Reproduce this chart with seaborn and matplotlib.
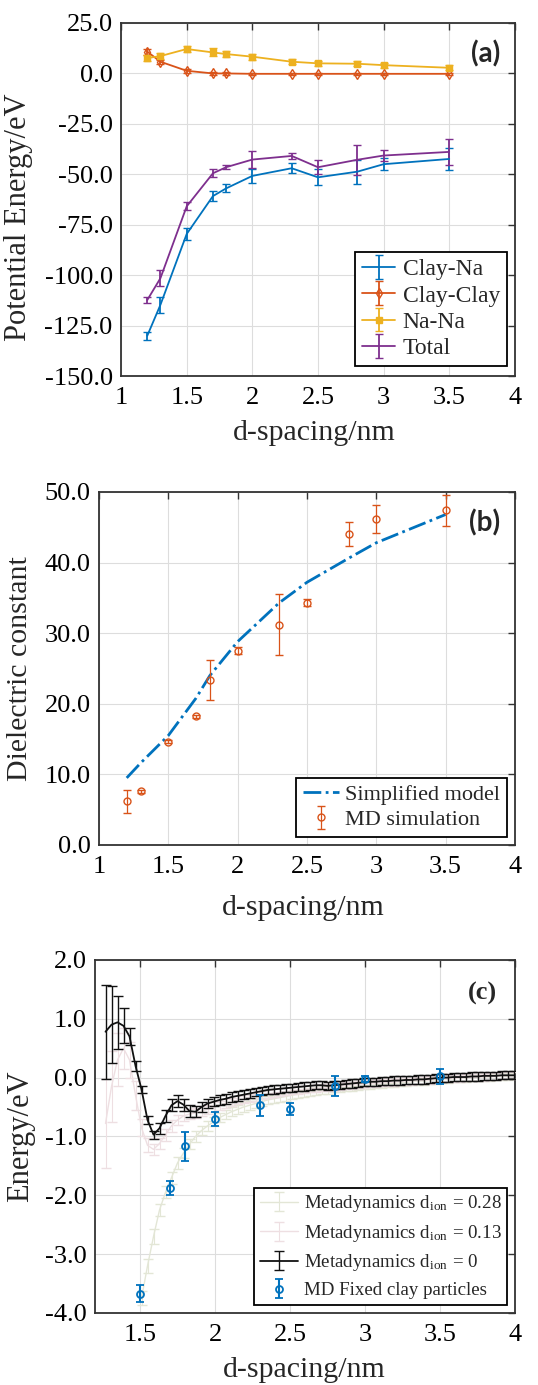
import matplotlib
matplotlib.use('Agg')
import matplotlib.pyplot as plt
import seaborn as sns
from matplotlib.ticker import FormatStrFormatter, MultipleLocator

# ---------------- panel (a): potential energy ----------------
x_a = [1.2, 1.3, 1.5, 1.7, 1.8, 2.0, 2.3, 2.5, 2.8, 3.0, 3.5]
clay_na = [-130.0, -114.7, -79.6, -60.8, -57.0, -50.8, -47.0, -51.5, -48.7, -45.0, -42.4]
clay_na_err = [2.0, 4.0, 3.0, 2.5, 2.0, 3.5, 2.5, 4.0, 6.0, 3.0, 5.5]
clay_clay = [10.8, 5.8, 1.3, 0.0, 0.0, -0.2, -0.2, -0.2, -0.2, -0.2, -0.2]
clay_clay_err = [1.5, 1.0, 1.0, 0.8, 0.8, 0.6, 0.6, 0.6, 0.6, 0.6, 0.6]
na_na = [7.6, 8.6, 12.1, 10.4, 9.6, 8.3, 5.8, 5.0, 4.8, 4.1, 2.8]
na_na_err = [1.5, 1.5, 1.5, 2.0, 1.5, 1.5, 1.2, 1.2, 1.2, 1.2, 1.2]
total = [-112.3, -101.5, -65.9, -49.5, -46.5, -42.7, -40.9, -46.5, -42.8, -40.7, -38.9]
total_err = [1.5, 4.0, 2.0, 2.0, 1.0, 4.0, 1.5, 3.5, 7.5, 2.5, 6.5]

# ---------------- panel (b): dielectric constant ----------------
x_b = [1.2, 1.3, 1.5, 1.7, 1.8, 2.0, 2.3, 2.5, 2.8, 3.0, 3.5]
md_eps = [6.2, 7.6, 14.6, 18.2, 23.4, 27.5, 31.2, 34.3, 44.0, 46.2, 47.4]
md_eps_err = [1.6, 0.2, 0.2, 0.2, 2.8, 0.5, 4.3, 0.5, 1.7, 2.0, 2.2]
model_eps = [9.5, 11.6, 15.5, 20.8, 24.0, 28.8, 34.3, 37.2, 40.6, 42.8, 46.8]

# ---------------- panel (c): free energy ----------------
x_md = [1.5, 1.7, 1.8, 2.0, 2.3, 2.5, 2.8, 3.0, 3.5]
md_e = [-3.67, -1.87, -1.17, -0.71, -0.47, -0.53, -0.14, -0.03, 0.02]
md_e_err = [0.15, 0.12, 0.25, 0.12, 0.18, 0.10, 0.17, 0.05, 0.13]

x_meta = [1.27, 1.31, 1.35, 1.39, 1.43, 1.47, 1.51, 1.55, 1.59, 1.63,
          1.67, 1.71, 1.75, 1.79, 1.83, 1.87, 1.91, 1.95, 1.99, 2.03,
          2.07, 2.11, 2.15, 2.19, 2.23, 2.27, 2.31, 2.35, 2.39, 2.43,
          2.47, 2.51, 2.55, 2.59, 2.63, 2.67, 2.71, 2.75, 2.79, 2.83,
          2.87, 2.91, 2.95, 2.99, 3.03, 3.07, 3.11, 3.15, 3.19, 3.23,
          3.27, 3.31, 3.35, 3.39, 3.43, 3.47, 3.51, 3.55, 3.59, 3.63,
          3.67, 3.71, 3.75, 3.79, 3.83, 3.87, 3.91, 3.95, 3.99]

meta_0 = [0.78, 0.90, 0.94, 0.88, 0.70, 0.20, -0.20, -0.72, -0.97, -0.86,
          -0.65, -0.47, -0.40, -0.46, -0.57, -0.58, -0.50, -0.44, -0.41, -0.38,
          -0.36, -0.33, -0.31, -0.29, -0.27, -0.25, -0.23, -0.21, -0.20, -0.19,
          -0.18, -0.17, -0.16, -0.15, -0.14, -0.13, -0.13, -0.14, -0.13, -0.12,
          -0.11, -0.10, -0.09, -0.08, -0.07, -0.07, -0.06, -0.06, -0.05, -0.05,
          -0.04, -0.04, -0.03, -0.03, -0.02, -0.01, 0.00, 0.00, 0.01, 0.01,
          0.01, 0.02, 0.02, 0.03, 0.03, 0.03, 0.04, 0.04, 0.04]
meta_0_err = [0.80, 0.65, 0.45, 0.30, 0.15, 0.08, 0.06, 0.06, 0.07, 0.09,
              0.10, 0.10, 0.10, 0.10, 0.10, 0.09, 0.09, 0.08, 0.08, 0.08,
              0.08, 0.08, 0.08, 0.08, 0.07, 0.07, 0.07, 0.07, 0.07, 0.07,
              0.07, 0.07, 0.07, 0.07, 0.07, 0.07, 0.07, 0.07, 0.07, 0.07,
              0.07, 0.07, 0.07, 0.07, 0.07, 0.07, 0.07, 0.07, 0.07, 0.07,
              0.07, 0.07, 0.07, 0.07, 0.07, 0.07, 0.07, 0.07, 0.07, 0.07,
              0.07, 0.07, 0.07, 0.07, 0.07, 0.07, 0.07, 0.07, 0.07]

meta_13 = [-0.78, -0.15, 0.30, 0.50, 0.30, -0.30, -0.85, -1.15, -1.22, -1.12,
           -0.97, -0.82, -0.72, -0.65, -0.62, -0.60, -0.57, -0.54, -0.50, -0.47,
           -0.44, -0.41, -0.38, -0.36, -0.34, -0.32, -0.30, -0.28, -0.26, -0.25,
           -0.24, -0.22, -0.21, -0.20, -0.19, -0.18, -0.17, -0.17, -0.16, -0.15,
           -0.14, -0.13, -0.12, -0.11, -0.10, -0.10, -0.09, -0.08, -0.08, -0.07,
           -0.06, -0.06, -0.05, -0.05, -0.04, -0.03, -0.02, -0.02, -0.01, -0.01,
           0.00, 0.00, 0.01, 0.01, 0.02, 0.02, 0.03, 0.03, 0.03]
meta_13_err = [0.75, 0.60, 0.45, 0.35, 0.30, 0.25, 0.15, 0.12, 0.10, 0.10,
               0.10, 0.10, 0.09, 0.09, 0.09, 0.08, 0.08, 0.08, 0.08, 0.08,
               0.07, 0.07, 0.07, 0.07, 0.07, 0.07, 0.07, 0.07, 0.07, 0.07,
               0.06, 0.06, 0.06, 0.06, 0.06, 0.06, 0.06, 0.06, 0.06, 0.06,
               0.06, 0.06, 0.06, 0.06, 0.06, 0.06, 0.06, 0.06, 0.06, 0.06,
               0.06, 0.06, 0.06, 0.06, 0.06, 0.06, 0.06, 0.06, 0.06, 0.06,
               0.06, 0.06, 0.06, 0.06, 0.06, 0.06, 0.06, 0.06, 0.06]

x_meta_28 = x_meta[6:]
meta_28 = [-3.75, -3.20, -2.70, -2.25, -1.95, -1.70, -1.45, -1.28, -1.13, -1.00,
           -0.90, -0.82, -0.75, -0.68, -0.63, -0.58, -0.54, -0.50, -0.47, -0.44,
           -0.41, -0.38, -0.36, -0.34, -0.32, -0.30, -0.28, -0.26, -0.25, -0.23,
           -0.22, -0.21, -0.19, -0.18, -0.17, -0.16, -0.15, -0.14, -0.13, -0.12,
           -0.11, -0.10, -0.10, -0.09, -0.08, -0.07, -0.06, -0.06, -0.05, -0.04,
           -0.03, -0.03, -0.02, -0.01, -0.01, 0.00, 0.00, 0.01, 0.01, 0.02,
           0.02, 0.02, 0.03]
meta_28_err = [0.12, 0.12, 0.12, 0.10, 0.10, 0.10, 0.10, 0.09, 0.09, 0.09,
               0.08, 0.08, 0.08, 0.08, 0.08, 0.08, 0.08, 0.08, 0.08, 0.08,
               0.07, 0.07, 0.07, 0.07, 0.07, 0.07, 0.07, 0.07, 0.07, 0.07,
               0.06, 0.06, 0.06, 0.06, 0.06, 0.06, 0.06, 0.06, 0.06, 0.06,
               0.06, 0.06, 0.06, 0.06, 0.06, 0.06, 0.06, 0.06, 0.06, 0.06,
               0.06, 0.06, 0.06, 0.06, 0.06, 0.06, 0.06, 0.06, 0.06, 0.06,
               0.06, 0.06, 0.06]

BLUE, ORANGE, YELLOW, PURPLE = '#0072BD', '#D95319', '#EDB120', '#7E2F8E'

sns.set_style('whitegrid')
plt.rcParams['font.family'] = ['Liberation Serif', 'DejaVu Serif']
plt.rcParams['mathtext.fontset'] = 'stix'

fig = plt.figure(figsize=(5.38, 13.85), dpi=100)
ax_a = fig.add_axes([0.225, 0.7285, 0.732, 0.2549])
ax_b = fig.add_axes([0.184, 0.3899, 0.773, 0.2549])
ax_c = fig.add_axes([0.1766, 0.0520, 0.7807, 0.2549])


def style(ax):
    ax.set_axisbelow(True)
    ax.grid(True, color='#dddddd', lw=0.8)
    for s in ax.spines.values():
        s.set_visible(True)
        s.set_color('#333333')
        s.set_linewidth(1.3)
    ax.tick_params(direction='in', top=True, right=True, length=5, width=1,
                   color='#333333', labelsize=19, labelcolor='black')
    ax.tick_params(axis='x', pad=8)
    ax.tick_params(axis='y', pad=6)
    ax.xaxis.set_major_locator(MultipleLocator(0.5))
    ax.xaxis.set_major_formatter(FormatStrFormatter('%g'))
    ax.yaxis.set_major_formatter(FormatStrFormatter('%.1f'))


def legend(ax, anchor, size, **kw):
    leg = ax.legend(loc='lower right', bbox_to_anchor=anchor, borderaxespad=0,
                    fontsize=size, frameon=True, fancybox=False, edgecolor='black',
                    framealpha=1, borderpad=0.3, **kw)
    leg.get_frame().set_linewidth(1.3)
    return leg


# (a)
ax = ax_a
ax.errorbar(x_a, clay_na, yerr=clay_na_err, color=BLUE, lw=1.3, capsize=3, label='Clay-Na')
ax.errorbar(x_a, clay_clay, yerr=clay_clay_err, color=ORANGE, lw=1.3, capsize=3,
            marker='d', ms=5, mfc='none', label='Clay-Clay')
ax.errorbar(x_a, na_na, yerr=na_na_err, color=YELLOW, lw=1.3, capsize=3,
            marker='s', ms=5, label='Na-Na')
ax.errorbar(x_a, total, yerr=total_err, color=PURPLE, lw=1.3, capsize=3, label='Total')
style(ax)
ax.set_xlim(1, 4)
ax.set_ylim(-150, 25)
ax.yaxis.set_major_locator(MultipleLocator(25))
ax.set_xlabel('d-spacing/nm', fontsize=21.5)
ax.set_ylabel('Potential Energy/eV', fontsize=22)
ax.xaxis.set_label_coords(0.49, -0.125)
ax.yaxis.set_label_coords(-0.223, 0.45)
legend(ax, (0.98, 0.028), 17, handlelength=1.4, labelspacing=0.2, handletextpad=0.3)
ax.text(0.962, 0.912, '(a)', transform=ax.transAxes, ha='right', va='center',
        fontsize=20, fontweight='bold', family='Lato')

# (b)
ax = ax_b
sns.lineplot(x=x_b, y=model_eps, ax=ax, color=BLUE, lw=2, linestyle='-.',
             label='Simplified model')
ax.errorbar(x_b, md_eps, yerr=md_eps_err, fmt='o', color=ORANGE, ms=5, mfc='none',
            mew=1.0, elinewidth=0.9, capsize=3, label='MD simulation')
style(ax)
ax.set_xlim(1, 4)
ax.set_ylim(0, 50)
ax.yaxis.set_major_locator(MultipleLocator(10))
ax.set_xlabel('d-spacing/nm', fontsize=21.5)
ax.set_ylabel('Dielectric constant', fontsize=21.5)
ax.xaxis.set_label_coords(0.49, -0.142)
ax.yaxis.set_label_coords(-0.159, 0.5)
legend(ax, (0.981, 0.023), 16, handlelength=1.6, labelspacing=0.2, handletextpad=0.3)
ax.text(0.964, 0.911, '(b)', transform=ax.transAxes, ha='right', va='center',
        fontsize=20, fontweight='bold', family='Lato')

# (c)
ax = ax_c
ax.errorbar(x_meta_28, meta_28, yerr=meta_28_err, color='#e3e6d6', lw=1.0,
            elinewidth=0.8, capsize=3.5, label=r'Metadynamics d$_\mathregular{ion}$ = 0.28', zorder=2)
ax.errorbar(x_meta, meta_13, yerr=meta_13_err, color='#eedfe2', lw=1.0,
            elinewidth=0.8, capsize=3.5, label=r'Metadynamics d$_\mathregular{ion}$ = 0.13', zorder=3)
ax.errorbar(x_meta, meta_0, yerr=meta_0_err, color='#111111', lw=1.3,
            elinewidth=1.0, capsize=3.5, label=r'Metadynamics d$_\mathregular{ion}$ = 0', zorder=4)
ax.errorbar(x_md, md_e, yerr=md_e_err, fmt='o', color=BLUE, ms=5, mfc='none', mew=1.3,
            elinewidth=1.5, capsize=3, label='MD Fixed clay particles', zorder=5)
style(ax)
ax.set_xlim(1.2, 4)
ax.set_ylim(-4, 2)
ax.yaxis.set_major_locator(MultipleLocator(1))
ax.set_xlabel('d-spacing/nm', fontsize=21.5)
ax.set_ylabel('Energy/eV', fontsize=22)
ax.xaxis.set_label_coords(0.498, -0.125)
ax.yaxis.set_label_coords(-0.143, 0.5)
legend(ax, (0.981, 0.023), 13.6, handlelength=2.0, labelspacing=0.45, handletextpad=0.3)
ax.text(0.957, 0.904, '(c)', transform=ax.transAxes, ha='right', va='center',
        fontsize=19, fontweight='bold')

fig.savefig('out.png', dpi=100)
